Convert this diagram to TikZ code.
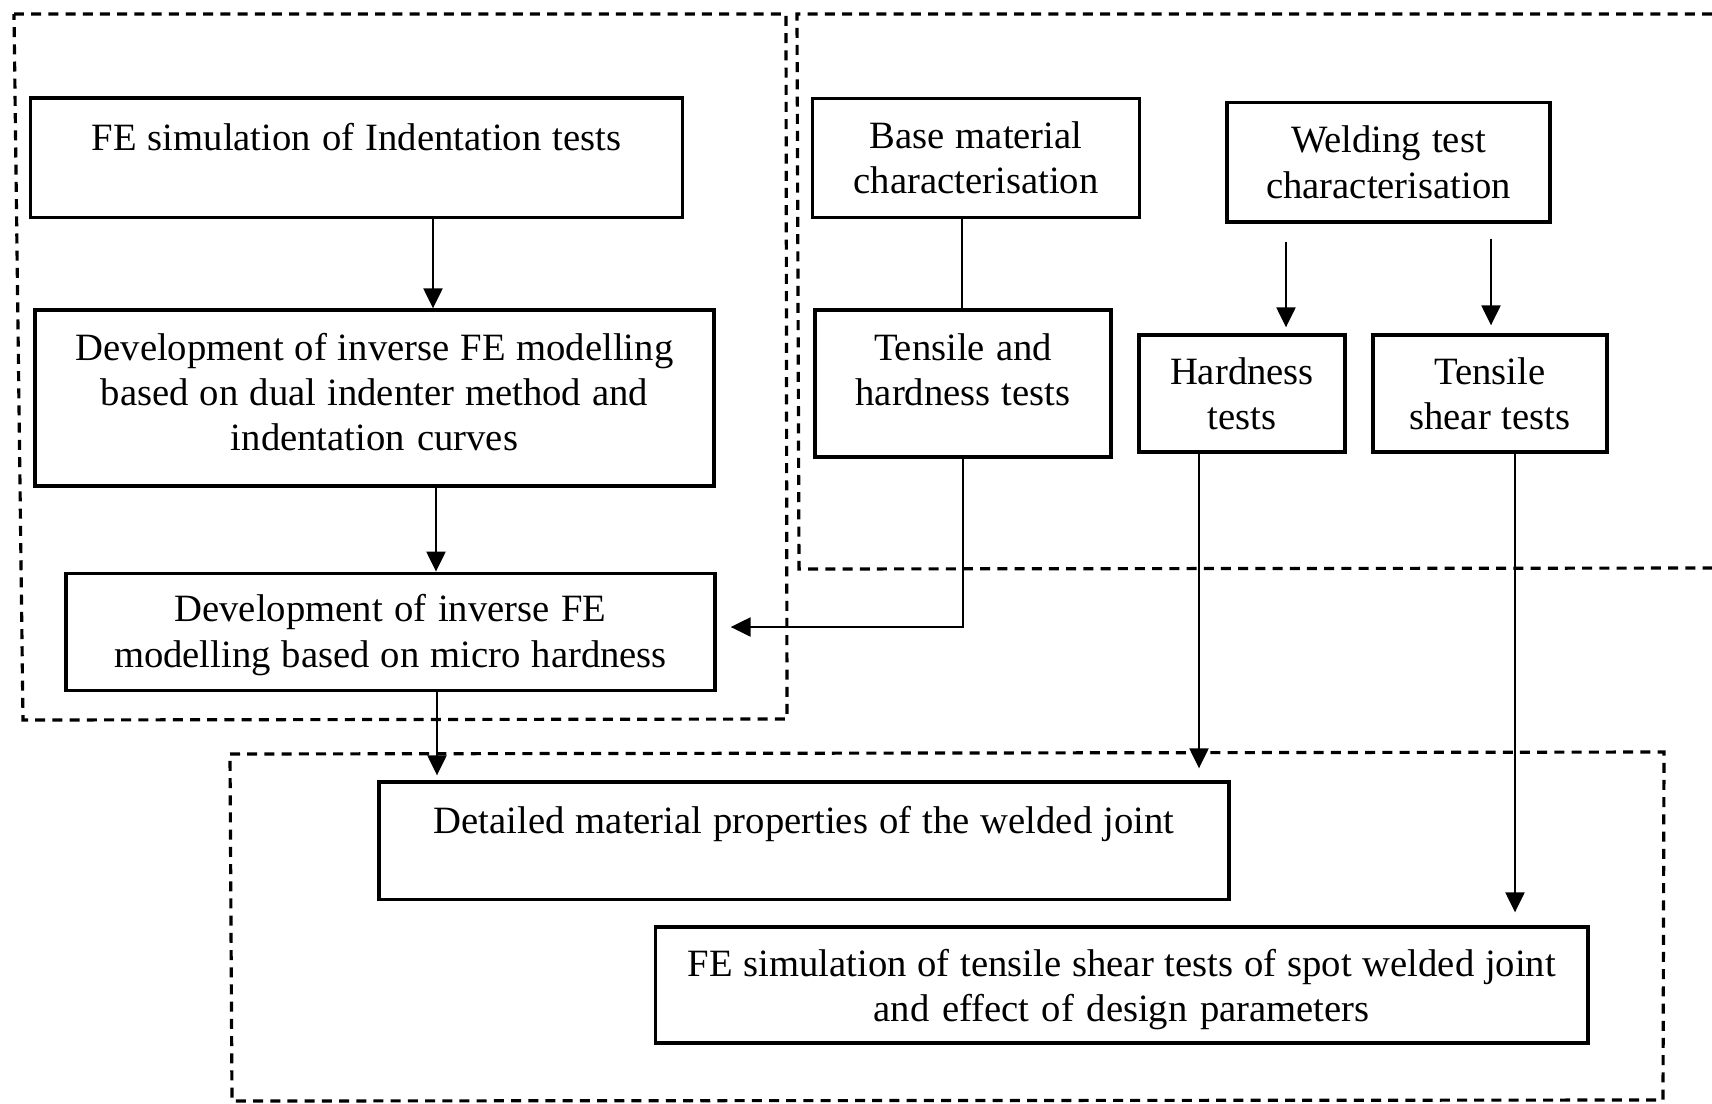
\documentclass[tikz,border=0pt]{standalone}
\usepackage{fontspec}
\setmainfont{Liberation Serif}
\usetikzlibrary{arrows.meta}
% interword space used inside the boxes
\newcommand\boxspacing{\spaceskip 3pt plus 0.2pt minus 0.2pt\relax}

\begin{document}
\begin{tikzpicture}[x=0.1mm, y=-0.1mm,
  box/.style={draw, line width=0.95pt, inner sep=0pt, align=center,
    font=\fontsize{11}{12.9}\selectfont, execute at begin node=\boxspacing},
  link/.style={line width=0.65pt},
  arr/.style={link, -{Triangle[length=2mm, width=1.9mm]}},
  group/.style={line width=0.9pt, dash pattern=on 1mm off 0.72mm}]

\useasboundingbox[fill=white] (0,0) rectangle (1712,1104);

% dashed grouping frames
\draw[group] (14,14) -- (786,14) -- (787,719) -- (23,720) -- cycle;
\draw[group] (1712,14) -- (797,14) -- (799,569) -- (1712,568);
\draw[group] (230,754) -- (1664,752) -- (1663,1100) -- (232,1101) -- cycle;

% process boxes
\node[box, minimum width=65.2mm, text width=65.2mm, text height=5.2mm, text depth=6.75mm]
  (b1) at (356.5,157.75) {FE simulation of Indentation tests};
\node[box, minimum width=67.9mm, text width=67.9mm, text height=5.0mm, text depth=12.6mm]
  (b2) at (374.5,398) {Development of inverse FE modelling\\based on dual indenter method and\\indentation curves};
\node[box, minimum width=64.9mm, text width=64.9mm, text height=4.85mm, text depth=6.9mm]
  (b3) at (390.5,632) {Development of inverse FE\\modelling based on micro hardness};
\node[box, minimum width=32.65mm, text width=32.65mm, minimum height=11.95mm]
  (b4) at (976,158) {Base material\\characterisation};
\node[box, minimum width=32.3mm, text width=32.3mm, minimum height=11.94mm]
  (b5) at (1388.5,162.3) {Welding test\\characterisation};
\node[box, minimum width=29.6mm, text width=29.6mm, text height=5.0mm, text depth=9.7mm]
  (b6) at (963,383.5) {Tensile and\\hardness tests};
\node[box, minimum width=20.6mm, text width=20.6mm, minimum height=11.7mm]
  (b7) at (1242,393.5) {Hardness\\tests};
\node[box, minimum width=23.4mm, text width=23.4mm, minimum height=11.7mm]
  (b8) at (1490,393.5) {Tensile\\shear tests};
\node[box, minimum width=85mm, text width=85mm, text height=5.1mm, text depth=6.65mm]
  (b9) at (804,840.75) {Detailed material properties of the welded joint};
\node[box, minimum width=93.25mm, text width=93.25mm, text height=4.9mm, text depth=6.7mm]
  (b10) at (1121.75,985) {FE simulation of tensile shear tests of spot welded joint\\and effect of design parameters};

% connectors
\draw[arr] (433,0 |- b1.south) -- (433,0 |- b2.north);
\draw[arr] (436,0 |- b2.south) -- (436,0 |- b3.north);
\draw[link] (962,0 |- b4.south) -- (962,0 |- b6.north);
\draw[arr, shorten >=1.4mm] (963,0 |- b6.south) |- ([yshift=0.5mm]b3.east);
\draw[arr, shorten <=1.8mm, shorten >=0.6mm] (1286,0 |- b5.south) -- (1286,0 |- b7.north);
\draw[arr, shorten <=1.5mm, shorten >=0.8mm] (1491,0 |- b5.south) -- (1491,0 |- b8.north);
\draw[arr, shorten >=0.5mm] (437,0 |- b3.south) -- (437,0 |- b9.north);
\draw[arr, shorten >=1.2mm] (1199,0 |- b7.south) -- (1199,0 |- b9.north);
\draw[arr, shorten >=1.3mm] (1515,0 |- b8.south) -- (1515,0 |- b10.north);

\end{tikzpicture}
\end{document}
